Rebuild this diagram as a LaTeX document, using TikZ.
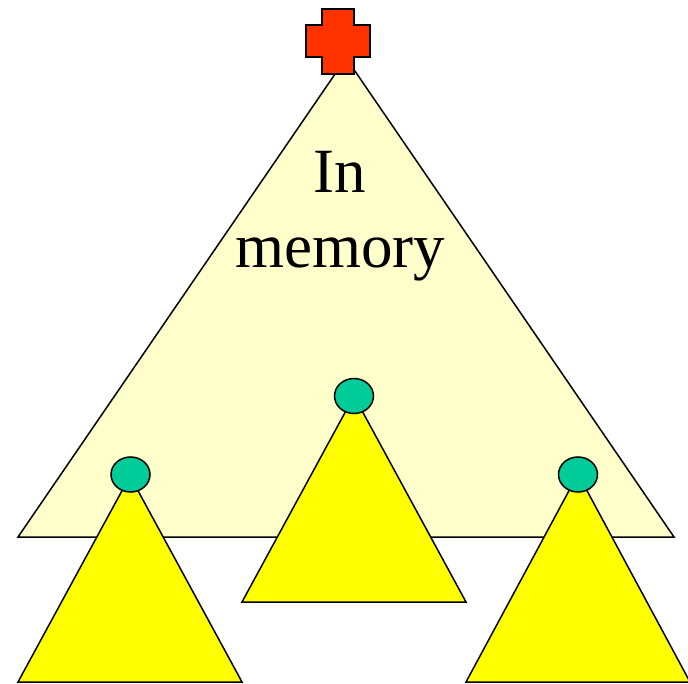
\documentclass[tikz,border=0pt]{standalone}
\usepackage{fontspec}
\setmainfont{Liberation Serif}
\definecolor{paleyellow}{HTML}{FFFFCC}
\definecolor{brightyellow}{HTML}{FFFF00}
\definecolor{teal}{HTML}{00CC99}
\definecolor{crossred}{HTML}{FF3300}
\begin{document}
\begin{tikzpicture}[x=1pt,y=-1pt,
  outline/.style={draw=black,line width=1.5pt,line join=miter},
  bigtri/.style={outline,fill=paleyellow},
  subtri/.style={outline,fill=brightyellow},
  rootdot/.style={outline,fill=teal},
  crossmark/.style={outline,fill=crossred}]
\useasboundingbox (0,0) rectangle (688,684);
% large in-memory triangle
\draw[bigtri] (346,58) -- (674,537) -- (18,537) -- cycle;
% red cross
\draw[crossmark] (322,9) -- (354,9) -- (354,25) -- (370,25) -- (370,57) -- (354,57)
  -- (354,74) -- (322,74) -- (322,57) -- (306,57) -- (306,25) -- (322,25) -- cycle;
% text
\node[font=\fontsize{63}{75}\selectfont,align=center,anchor=base] (txt) at (340,193) {In};
\node[font=\fontsize{63}{75}\selectfont,align=center,anchor=base] (txt2) at (340,268) {memory};
% subtrees
\draw[subtri] (130,476) -- (242,682) -- (18,682) -- cycle;
\draw[subtri] (354,396) -- (466,602) -- (242,602) -- cycle;
\draw[subtri] (578,474) -- (690,682) -- (466,682) -- cycle;
% root circles
\draw[rootdot] (130.5,474.5) ellipse [x radius=19.5, y radius=17.5];
\draw[rootdot] (354,396) ellipse [x radius=19.5, y radius=17.5];
\draw[rootdot] (578,474.5) ellipse [x radius=19.5, y radius=17.5];
\end{tikzpicture}
\end{document}
